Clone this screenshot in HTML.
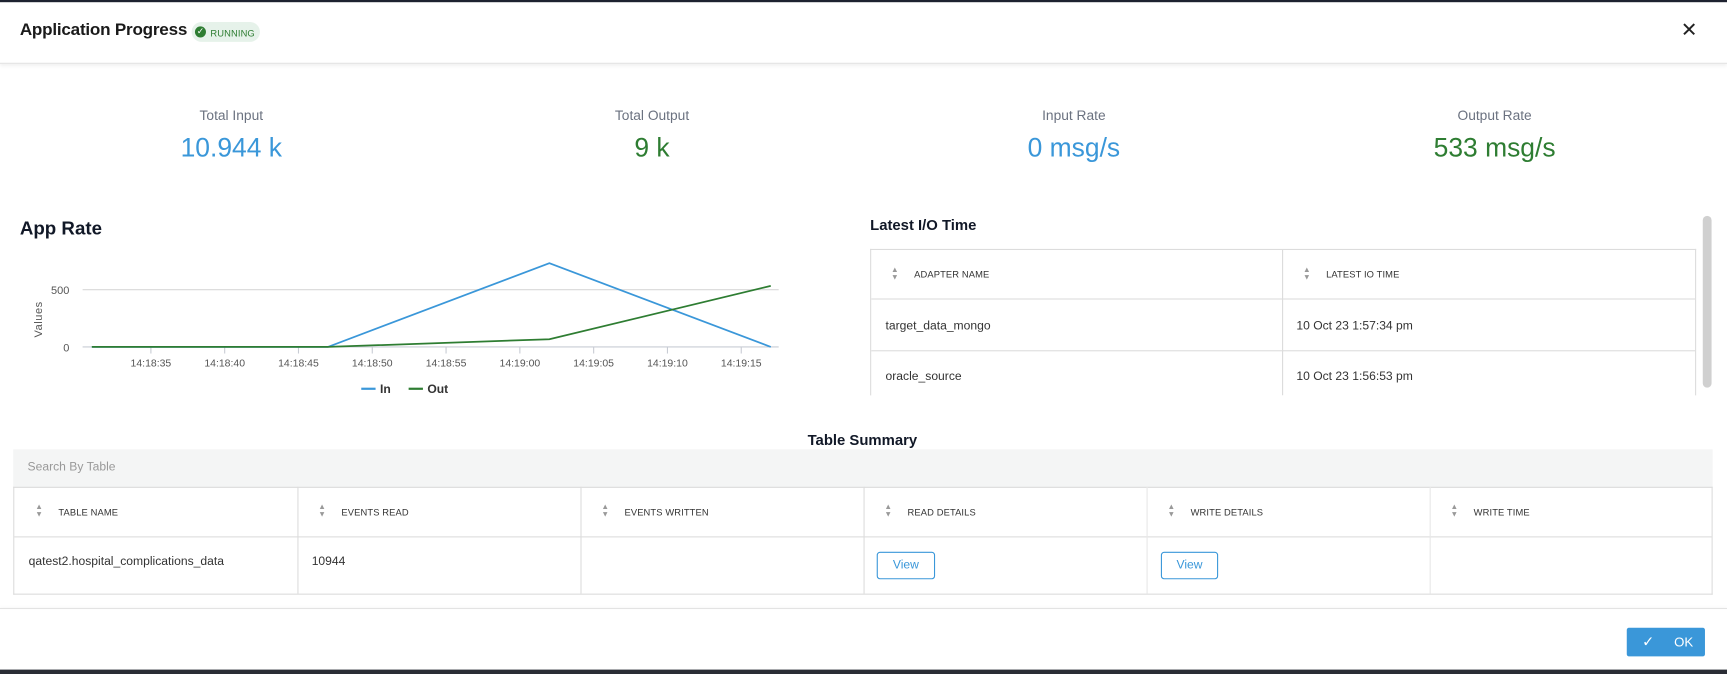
<!DOCTYPE html>
<html><head><meta charset="utf-8"><style>
html,body{margin:0;padding:0;width:1727px;height:674px;overflow:hidden;background:#fff;font-family:"Liberation Sans",sans-serif;}
#wrap{position:absolute;left:0;top:0;width:1568px;height:612px;transform:scale(1.10140,1.10131);transform-origin:0 0;background:#fff;}
.abs{position:absolute;}
.lbl{position:absolute;font-size:12.5px;color:#6b7280;text-align:center;width:300px;}
.val{position:absolute;font-size:24px;text-align:center;width:300px;}
.th{position:absolute;font-size:8.5px;color:#333;letter-spacing:.1px;}
.sort{position:absolute;width:8px;height:14px;}
.td{position:absolute;font-size:11px;color:#333;}
.btn{position:absolute;border:1px solid #3a97d9;border-radius:3px;color:#3a97d9;font-size:11px;text-align:center;line-height:23px;background:#fff;}
</style></head><body>
<div id="wrap">
<div class="abs" style="left:0;top:0;width:1568px;height:2px;background:#1e2230"></div>
<div class="abs" style="left:0;top:0;width:1568px;height:57px;border-bottom:1px solid #e3e3e3;box-shadow:0 2px 3px rgba(0,0,0,.06)"></div>
<div class="abs" style="left:18px;top:19px;font-size:15.5px;font-weight:bold;color:#1a1a1a;letter-spacing:-0.2px">Application Progress</div>
<div class="abs" style="left:174px;top:20px;width:62px;height:18px;border-radius:9px;background:#e6f2ea">
 <div class="abs" style="left:3px;top:4px;width:10px;height:10px;border-radius:50%;background:#2e7d32;color:#fff;font-size:8px;line-height:10px;text-align:center">✓</div>
 <div class="abs" style="left:17px;top:4.5px;font-size:8.5px;color:#2e7d32;letter-spacing:.1px">RUNNING</div>
</div>
<div class="abs" style="left:1526px;top:17px;font-size:18px;color:#222">✕</div>

<div class="lbl" style="left:60px;top:98px">Total Input</div>
<div class="val" style="left:60px;top:121px;color:#3a97d9">10.944 k</div>
<div class="lbl" style="left:442px;top:98px">Total Output</div>
<div class="val" style="left:442px;top:121px;color:#2e7d32">9 k</div>
<div class="lbl" style="left:825px;top:98px">Input Rate</div>
<div class="val" style="left:825px;top:121px;color:#3a97d9">0 msg/s</div>
<div class="lbl" style="left:1207px;top:98px">Output Rate</div>
<div class="val" style="left:1207px;top:121px;color:#2e7d32">533 msg/s</div>

<div class="abs" style="left:18px;top:198px;font-size:17px;font-weight:bold;color:#111827">App Rate</div>
<svg class="abs" style="left:0;top:220px" width="760" height="150" id="chart"></svg>

<div class="abs" style="left:790px;top:197px;font-size:13.5px;font-weight:bold;color:#111827">Latest I/O Time</div>
<div class="abs" style="left:790px;top:226px;width:748px;height:132px;border:1px solid #dcdcdc;border-bottom:none;overflow:hidden">
 <div class="abs" style="left:0;top:44px;width:748px;height:1px;background:#dcdcdc"></div>
 <div class="abs" style="left:0;top:91px;width:748px;height:1px;background:#dcdcdc"></div>
 <div class="abs" style="left:373px;top:0;width:1px;height:132px;background:#dcdcdc"></div>
 <div class="sort" style="left:18px;top:15px;color:#999;font-size:7px;line-height:7px">▲<br>▼</div>
 <div class="th" style="left:39px;top:17px">ADAPTER NAME</div>
 <div class="sort" style="left:392px;top:15px;color:#999;font-size:7px;line-height:7px">▲<br>▼</div>
 <div class="th" style="left:413px;top:17px">LATEST IO TIME</div>
 <div class="td" style="left:13px;top:63px">target_data_mongo</div>
 <div class="td" style="left:386px;top:63px">10 Oct 23 1:57:34 pm</div>
 <div class="td" style="left:13px;top:109px">oracle_source</div>
 <div class="td" style="left:386px;top:109px">10 Oct 23 1:56:53 pm</div>
</div>
<div class="abs" style="left:1546px;top:196px;width:8px;height:156px;border-radius:4px;background:#d0d0d0"></div>

<div class="abs" style="left:683px;top:392px;width:200px;text-align:center;font-size:13.5px;font-weight:bold;color:#111827">Table Summary</div>
<div class="abs" style="left:12px;top:408px;width:1543px;height:34px;background:#f4f5f5;border-bottom:1px solid #dcdcdc"><div class="abs" style="left:13px;top:10px;font-size:11px;color:#999">Search By Table</div></div>
<div class="abs" style="left:12px;top:442px;width:1541px;height:97px;border:1px solid #dcdcdc;border-top:none">
 <div class="abs" style="left:0;top:45px;width:1541px;height:1px;background:#dcdcdc"></div>
 <div class="abs" style="left:257px;top:0;width:1px;height:97px;background:#dcdcdc"></div>
 <div class="abs" style="left:514px;top:0;width:1px;height:97px;background:#dcdcdc"></div>
 <div class="abs" style="left:771px;top:0;width:1px;height:97px;background:#dcdcdc"></div>
 <div class="abs" style="left:1028px;top:0;width:1px;height:97px;background:#e8e8e8"></div>
 <div class="abs" style="left:1285px;top:0;width:1px;height:97px;background:#e8e8e8"></div>
 <div class="sort" style="left:19px;top:15px;color:#999;font-size:7px;line-height:7px">▲<br>▼</div><div class="th" style="left:40px;top:18px">TABLE NAME</div>
 <div class="sort" style="left:276px;top:15px;color:#999;font-size:7px;line-height:7px">▲<br>▼</div><div class="th" style="left:297px;top:18px">EVENTS READ</div>
 <div class="sort" style="left:533px;top:15px;color:#999;font-size:7px;line-height:7px">▲<br>▼</div><div class="th" style="left:554px;top:18px">EVENTS WRITTEN</div>
 <div class="sort" style="left:790px;top:15px;color:#999;font-size:7px;line-height:7px">▲<br>▼</div><div class="th" style="left:811px;top:18px">READ DETAILS</div>
 <div class="sort" style="left:1047px;top:15px;color:#999;font-size:7px;line-height:7px">▲<br>▼</div><div class="th" style="left:1068px;top:18px">WRITE DETAILS</div>
 <div class="sort" style="left:1304px;top:15px;color:#999;font-size:7px;line-height:7px">▲<br>▼</div><div class="th" style="left:1325px;top:18px">WRITE TIME</div>
 <div class="td" style="left:13px;top:62px">qatest2.hospital_complications_data</div>
 <div class="td" style="left:270px;top:62px">10944</div>
 <div class="btn" style="left:783px;top:59px;width:51px;height:23px">View</div>
 <div class="btn" style="left:1041px;top:59px;width:50px;height:23px">View</div>
</div>
<div class="abs" style="left:0;top:552px;width:1568px;height:1px;background:#e3e3e3;box-shadow:0 -1px 3px rgba(0,0,0,.05)"></div>
<div class="abs" style="left:1477px;top:570px;width:71px;height:26px;background:#3a97d9;border-radius:2px;color:#fff;font-size:12px;line-height:26px"><span style="position:absolute;left:14px;font-size:13px">✓</span><span style="position:absolute;left:43px">OK</span></div>
<div class="abs" style="left:0;top:608px;width:1568px;height:4px;background:#2a2d35"></div>
</div>
<script>
const times=[31,47,62,77];
const inVals=[0,0,731,0];
const outVals=[0,0,67,533];
const tickTimes=[35,40,45,50,55,60,65,70,75];
const tickLabels=["14:18:35","14:18:40","14:18:45","14:18:50","14:18:55","14:19:00","14:19:05","14:19:10","14:19:15"];
const yTicks=[0,500];
const NS="http://www.w3.org/2000/svg";
const svg=document.getElementById('chart');
const OY=220;
function x(t){return 137+(t-35)*13.4;}
function y(v){return 315-OY-v*52/500;}
function mk(tag,attrs,parent){const e=document.createElementNS(NS,tag);for(const k in attrs)e.setAttribute(k,attrs[k]);(parent||svg).appendChild(e);return e;}
yTicks.forEach(v=>{
 const g=mk('line',{x1:75,x2:707,y1:y(v),y2:y(v),stroke:v===0?'#c8ccd4':'#d8d8d8','stroke-width':1});
 
 
 const t=mk('text',{x:63,y:y(v)+4,'text-anchor':'end','font-size':10,fill:'#555','font-family':'Liberation Sans'});
 t.textContent=v;
 
 
});
tickTimes.forEach((tt,i)=>{
 const l=mk('line',{x1:x(tt),x2:x(tt),y1:y(0),y2:y(0)+6,stroke:'#c8ccd4'});
 
 
 const t=mk('text',{x:x(tt),y:y(0)+18,'text-anchor':'middle','font-size':9.5,fill:'#555','font-family':'Liberation Sans'});
 t.textContent=tickLabels[i];
 
 
});
const yt=mk('text',{x:0,y:0,transform:'translate(38,'+(290-OY)+') rotate(-90)','text-anchor':'middle','font-size':10,fill:'#555','font-family':'Liberation Sans','letter-spacing':'0.5'});
yt.textContent='Values';


function series(vals,color,name){
 const p=mk('polyline',{points:vals.map((v,i)=>x(times[i])+','+y(v)).join(' '),fill:'none',stroke:color,'stroke-width':1.6});
 
 
}
series(inVals,'#3a97d9','in-line');
series(outVals,'#2e7d32','out-line');
[[328,'#3a97d9','In','legend-in'],[371,'#2e7d32','Out','legend-out']].forEach(d=>{
 const g=mk('g',{});
 
 
 mk('line',{x1:d[0],x2:d[0]+13,y1:353-OY,y2:353-OY,stroke:d[1],'stroke-width':2},g);
 const t=mk('text',{x:d[0]+17,y:357-OY,'font-size':11,'font-weight':'bold',fill:'#333','font-family':'Liberation Sans'},g);
 t.textContent=d[2];
});
</script>
</body></html>
